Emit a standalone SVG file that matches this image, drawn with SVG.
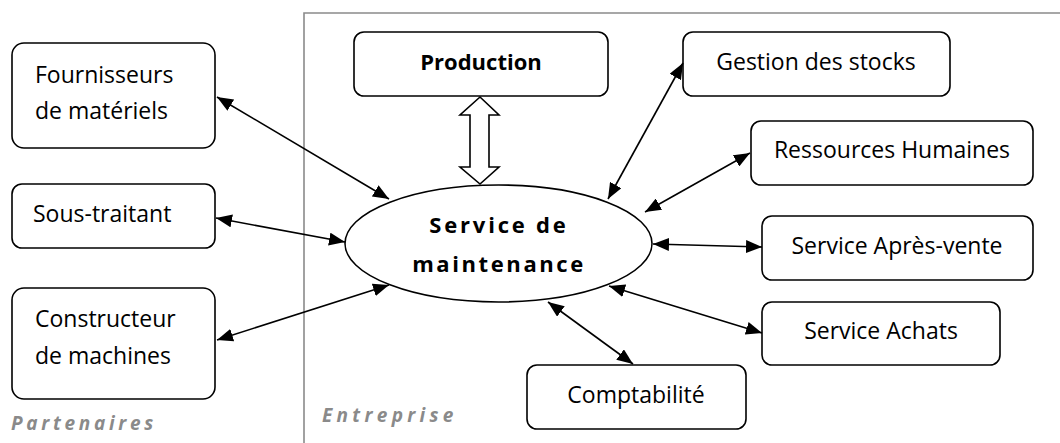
<svg xmlns="http://www.w3.org/2000/svg" width="1060" height="443" viewBox="0 0 1060 443">
<defs>
<style>
.box{fill:#fff;stroke:#000;stroke-width:1.6}
.t{font-family:"Open Sans","Noto Sans","Liberation Sans",sans-serif;font-size:23px;fill:#000}
.b{font-weight:bold;font-size:22px}
.c{text-anchor:middle}
.lbl{font-family:"Open Sans","Noto Sans","Liberation Sans",sans-serif;font-size:19px;font-weight:bold;font-style:italic;fill:#8a8a8a;letter-spacing:3.7px}
.con line{stroke:#000;stroke-width:1.6;marker-start:url(#ah);marker-end:url(#ah)}
</style>
<marker id="ah" viewBox="0 0 16 13" refX="16" refY="6.5" markerWidth="16" markerHeight="13" markerUnits="userSpaceOnUse" orient="auto-start-reverse">
<path d="M0,0 L16,6.5 L0,13 z" fill="#000"/>
</marker>
</defs>
<rect width="1060" height="443" fill="#fff"/>
<g id="frame">
<path d="M304,443 V13 H1060" fill="none" stroke="#8a8a8a" stroke-width="1.6"/>
</g>
<g id="partenaires-label"><text class="lbl" x="11" y="430">Partenaires</text></g>
<g id="entreprise-label"><text class="lbl" x="322" y="422" style="letter-spacing:4.3px">Entreprise</text></g>

<g id="fournisseurs">
<rect class="box" x="12" y="43" width="203" height="105" rx="12"/>
<text class="t" x="35" y="83">Fournisseurs</text>
<text class="t" x="35" y="119">de matériels</text>
</g>
<g id="sous-traitant">
<rect class="box" x="12" y="184" width="203" height="64" rx="10"/>
<text class="t" x="33" y="222">Sous-traitant</text>
</g>
<g id="constructeur">
<rect class="box" x="12" y="288" width="203" height="111" rx="12"/>
<text class="t" x="35" y="327">Constructeur</text>
<text class="t" x="35" y="364">de machines</text>
</g>
<g id="production">
<rect class="box" x="354" y="32" width="254" height="64" rx="10"/>
<text class="t b c" x="481" y="70">Production</text>
</g>
<g id="gestion">
<rect class="box" x="683" y="32" width="267" height="64" rx="10"/>
<text class="t c" x="816" y="70">Gestion des stocks</text>
</g>
<g id="rh">
<rect class="box" x="751" y="121" width="282" height="64" rx="10"/>
<text class="t c" x="892" y="158">Ressources Humaines</text>
</g>
<g id="sav">
<rect class="box" x="762" y="216" width="271" height="64" rx="10"/>
<text class="t c" x="897" y="254">Service Après-vente</text>
</g>
<g id="achats">
<rect class="box" x="762" y="302" width="238" height="63" rx="10"/>
<text class="t c" x="881" y="339">Service Achats</text>
</g>
<g id="comptabilite">
<rect class="box" x="527" y="365" width="219" height="64" rx="10"/>
<text class="t c" x="636" y="403">Comptabilité</text>
</g>
<g id="maintenance">
<ellipse class="box" cx="498.5" cy="243.5" rx="153.5" ry="58.5"/>
<text class="t b c" x="499" y="233" style="letter-spacing:2.8px">Service de</text>
<text class="t b c" x="499" y="272" style="letter-spacing:2.6px">maintenance</text>
</g>

<g id="connectors" class="con">
<line x1="217" y1="97" x2="389" y2="199"/>
<line x1="216" y1="218" x2="345" y2="242"/>
<line x1="217" y1="340" x2="389" y2="285"/>
<line x1="683" y1="63" x2="608" y2="199"/>
<line x1="750" y1="153" x2="645" y2="212"/>
<line x1="762" y1="247" x2="653" y2="244"/>
<line x1="762" y1="333" x2="609" y2="286"/>
<line x1="633" y1="364" x2="548" y2="302"/>
<polygon points="480,97 499,115 489,115 489,167 499,167 480,184 460,167 470,167 470,115 460,115" fill="#fff" stroke="#000" stroke-width="1.6" stroke-linejoin="miter"/>
</g>
</svg>
